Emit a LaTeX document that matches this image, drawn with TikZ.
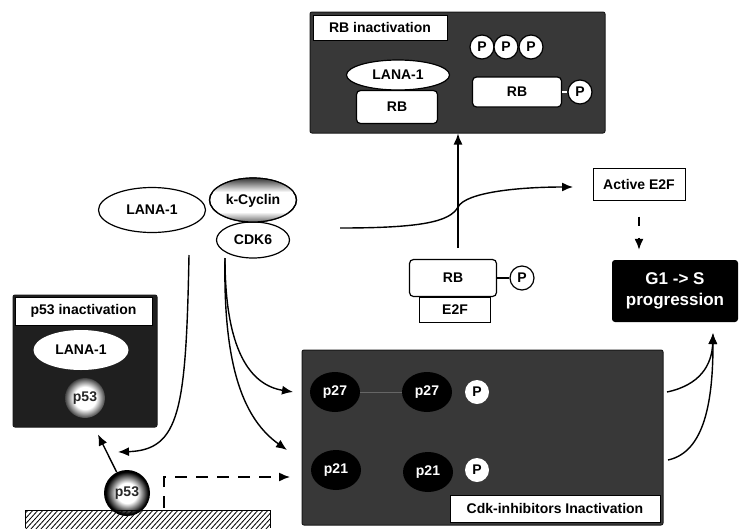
\documentclass[tikz,border=0pt]{standalone}
\usepackage{fontspec}
\setmainfont{Liberation Sans}
\usetikzlibrary{arrows.meta,shapes.geometric}
\pgfdeclareradialshading{glowsmall}{\pgfpoint{0bp}{0bp}}{color(0bp)=(white); color(14bp)=(white); color(29bp)=(black); color(60bp)=(black)}
\pgfdeclareradialshading{glowbig}{\pgfpoint{0bp}{0bp}}{color(0bp)=(white); color(11bp)=(white); color(23bp)=(black); color(60bp)=(black)}
\begin{document}
\begin{tikzpicture}[x=1pt,y=-1pt,
  lbl/.style={font=\bfseries\fontsize{14}{16}\selectfont},
  darkbox/.style={fill=black!78, draw=black!90, line width=1pt, rounded corners=2pt, inner sep=0pt},
  titlebox/.style={draw=black, line width=0.8pt, fill=white, lbl, inner sep=0pt},
  wellipse/.style={ellipse, draw, line width=1.2pt, fill=white, lbl, inner sep=0pt},
  wbox/.style={draw, line width=1.2pt, fill=white, rounded corners=4pt, lbl, inner sep=0pt},
  pc/.style={circle, draw, line width=1.2pt, fill=white, lbl, minimum size=24pt, inner sep=0pt},
  bell/.style={ellipse, fill=black, text=white, lbl, minimum width=50pt, minimum height=40pt, inner sep=0pt},
  conn/.style={line width=1.4pt, -{Latex[length=11pt,width=9pt]}},
]
\useasboundingbox (0,0) rectangle (739,528);
\fill[white] (0,0) rectangle (739,528);

% ---------- RB inactivation box ----------
\node[darkbox, minimum width=295pt, minimum height=121pt] (rbinact) at (457.5,72.5) {};
\node[titlebox, minimum width=134pt, minimum height=25pt] (rbtitle) at (380,27.5) {RB inactivation};
\node[wellipse, minimum width=103pt, minimum height=30pt] (lanarb) at (398,75) {LANA-1};
\node[wbox, minimum width=81pt, minimum height=33pt] (rbl) at (397,107) {RB};
\node[pc] (pp1) at (482,47) {P};
\node[pc] (pp2) at (506,47) {P};
\node[pc] (pp3) at (531,47) {P};
\node[wbox, minimum width=89pt, minimum height=30pt] (rbr) at (517,92) {RB};
\node[pc] (prbr) at (580,92) {P};
\draw[line width=1.2pt, white] (rbr.east) -- (prbr.west);

% ---------- LANA-1 / k-Cyclin / CDK6 ----------
\node[wellipse, minimum width=107pt, minimum height=45pt] (lana) at (152,210) {LANA-1};
\node[wellipse, minimum width=73pt, minimum height=36pt] (cdk6) at (253,240) {CDK6};
\node[wellipse, minimum width=87pt, minimum height=44pt] (kcyc) at (253,200) {};
\begin{scope}
  \clip (253,200) ellipse [x radius=43.5, y radius=22];
  \shade[top color=black!90, bottom color=white] (205,176) rectangle (300,192);
  \shade[top color=white, bottom color=black!70] (205,212) rectangle (300,224);
\end{scope}
\draw[line width=1.2pt] (253,200) ellipse [x radius=43.5, y radius=22];
\node[lbl] (kcyctext) at (253,201) {k-Cyclin};

% ---------- Active E2F and G1->S ----------
\node[draw, line width=1pt, fill=white, lbl, minimum width=92pt, minimum height=32pt, inner sep=0pt] (e2fact) at (639,184) {Active E2F};
\node[fill=black, text=white, rounded corners=3pt, minimum width=126pt, minimum height=62pt, inner sep=0pt,
      font=\bfseries\fontsize{17}{21}\selectfont, align=center] (g1) at (675,291) {G1 -> S\\progression};

% ---------- RB-P / E2F complex ----------
\node[draw, line width=1.2pt, fill=white, lbl, minimum width=71pt, minimum height=25pt, inner sep=0pt] (e2f) at (455,310) {E2F};
\node[wbox, minimum width=87pt, minimum height=37pt] (rbp) at (453,278) {RB};
\node[pc] (prbp) at (522,278) {P};
\draw[line width=1.2pt] (rbp.east) -- (prbp.west);

% ---------- p53 inactivation ----------
\node[darkbox, fill=black!88, minimum width=144pt, minimum height=132pt] (p53box) at (85,361) {};
\node[titlebox, minimum width=137pt, minimum height=28pt] (p53title) at (83.5,311) {p53 inactivation};
\node[wellipse, draw=none, minimum width=95pt, minimum height=40pt] (lanap53) at (81,350) {LANA-1};
\node[circle, shading=glowsmall, minimum size=40pt, inner sep=0pt, lbl, text=black!85] (p53in) at (85,398) {p53};

% ---------- p53 at membrane ----------
\node[circle, shading=glowbig, minimum size=46pt, inner sep=0pt, lbl, text=black!85] (p53b) at (127,493) {p53};
\begin{scope}
  \clip (25,510) rectangle (270,528);
  \foreach \i in {0,5,...,270} \draw[line width=0.8pt] (5+\i,530) -- (25+\i,508);
\end{scope}
\draw[line width=1pt] (25,528) -- (25,510) -- (270,510) -- (270,528);

% ---------- Cdk-inhibitors inactivation ----------
\node[darkbox, minimum width=361pt, minimum height=175pt] (cdkbox) at (482.5,437.5) {};
\node[bell] (p27a) at (335,392) {p27};
\node[bell] (p27b) at (427,392) {p27};
\node[pc, draw=none] (p27p) at (477,392) {P};
\node[bell] (p21a) at (336,470) {p21};
\node[bell] (p21b) at (428,472) {p21};
\node[pc, draw=none] (p21p) at (477,470) {P};
\draw[line width=1pt, black!60] (p27a.east) -- (p27b.west);
\node[titlebox, minimum width=210pt, minimum height=27pt] (cdktitle) at (555,508.5) {Cdk-inhibitors Inactivation};

% ---------- connectors ----------
\coordinate (upstart) at (458,248);
\draw[conn] (upstart) -- (upstart |- rbinact.south);

\coordinate (sigstart) at (340,228);
\coordinate (sigmid) at (458,207);
\coordinate (sigend) at (573,187);
\draw[conn] (sigstart) .. controls (420,228) and (450,222) .. (sigmid)
            .. controls (466,192) and (520,187) .. (sigend);

\draw[conn, dash pattern=on 9pt off 12pt] ([yshift=-16pt]e2fact.south) -- ([yshift=10pt]e2fact.south |- g1.north);

\coordinate (ls) at (189,255);
\coordinate (lend) at (118,452);
\draw[conn] (ls) .. controls (186,410) and (180,450) .. (lend);

\draw[conn] (p53b) -- ([xshift=13pt,yshift=-7pt]p53box.south);

\coordinate (dstart) at (164,508);
\coordinate (dcorner) at (164,477);
\coordinate (dend) at (290,477);
\draw[conn, dash pattern=on 12pt off 9pt] (dstart) -- (dcorner) -- (dend);

\coordinate (cs) at (225,258);
\coordinate (ca) at (293,392);
\coordinate (cb) at (287,450);
\draw[conn] (cs) .. controls (225,350) and (250,385) .. (ca);
\draw[conn] (cs) .. controls (223,370) and (245,420) .. (cb);

\coordinate (ra) at (667,392);
\coordinate (rb) at (668,460);
\coordinate (g1tip) at (713,333);
\draw[conn] (ra) .. controls (700,385) and (712,365) .. (g1tip);
\draw[conn] (rb) .. controls (705,452) and (713,400) .. (g1tip);
\end{tikzpicture}
\end{document}
